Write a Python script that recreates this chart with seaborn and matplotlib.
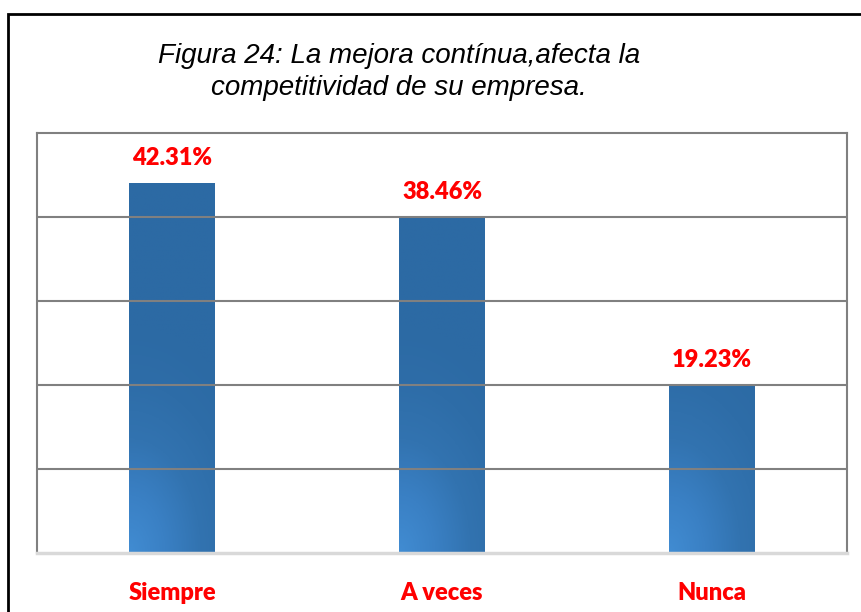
import numpy as np
import pandas as pd
import matplotlib
matplotlib.use("Agg")
import matplotlib.pyplot as plt
import seaborn as sns
from matplotlib.patches import Rectangle
from matplotlib.colors import LinearSegmentedColormap

# data
categories = ["Siempre", "A veces", "Nunca"]
percentages = [0.4231, 0.3846, 0.1923]
title_text = "Figura 24: La mejora contínua,afecta la\ncompetitividad de su empresa."

df = pd.DataFrame({"respuesta": categories, "porcentaje": percentages})

sns.set_theme(style="white")
plt.rcParams["font.family"] = ["Liberation Sans", "DejaVu Sans"]

fig = plt.figure(figsize=(8.62, 6.12), dpi=100)
W, H = 862, 612
ax = fig.add_axes([37 / W, (612 - 553) / H, 810 / W, 420 / H])

sns.barplot(data=df, x="respuesta", y="porcentaje", order=categories,
            color="#2E6DA8", width=0.318, ax=ax, saturation=1)

# gridlines every half of the smallest value (Excel auto scale)
step = percentages[2] / 2
ax.set_ylim(0, step * 5)
ax.set_yticks(np.arange(1, 5) * step)
ax.yaxis.grid(True, color="#808080", linewidth=1.5)
ax.set_axisbelow(False)
ax.tick_params(left=False, bottom=False, labelleft=False)
ax.set_xlabel("")
ax.set_ylabel("")
for side in ["left", "top", "right"]:
    ax.spines[side].set_color("#808080")
    ax.spines[side].set_linewidth(1.5)
ax.spines["bottom"].set_color("#d9d9d9")
ax.spines["bottom"].set_linewidth(2.5)

# gradient fill on bars: lighter at the bottom-left, dark towards the top
cmap = LinearSegmentedColormap.from_list("g", ["#418CD2", "#3A80C4", "#3273B0", "#2E6DA8", "#2C6AA4"])
for bar in ax.patches:
    x0, y0 = bar.get_x(), bar.get_y()
    w, h = bar.get_width(), bar.get_height()
    yy, xx = np.mgrid[0:1:200j, 0:1:60j]
    t = np.sqrt((xx * 0.6) ** 2 + (yy * h / 0.26) ** 2)
    im = ax.imshow(np.clip(t, 0, 1), cmap=cmap, origin="lower", aspect="auto",
                   extent=[x0, x0 + w, y0, y0 + h], zorder=bar.get_zorder() + 0.1,
                   vmin=0, vmax=1)
    im.set_clip_path(bar)
ax.set_xlim(-0.5, len(categories) - 0.5)

# data labels
for i, v in enumerate(percentages):
    ax.annotate(f"{v * 100:.2f}%", (i, v), xytext=(0, 10), textcoords="offset points",
                ha="center", va="bottom", color="#FF0000", fontsize=17,
                fontweight="heavy", family=["Lato", "DejaVu Sans"], zorder=5)

ax.set_xticks(range(len(categories)))
ax.set_xticklabels(categories, color="#FF0000", fontsize=17, fontweight="heavy",
                   family=["Lato", "DejaVu Sans"])
ax.tick_params(axis="x", pad=15)

fig.text(399 / W, 1 - 72 / H, title_text, ha="center", va="center",
         fontsize=20, style="italic", color="black", linespacing=1.27)

# outer chart border
fig.add_artist(Rectangle((8 / W, -0.1), 1.2, (612 - 14) / H + 0.1,
                         transform=fig.transFigure, fill=False,
                         edgecolor="black", linewidth=2))

fig.savefig("out.png", dpi=100)
